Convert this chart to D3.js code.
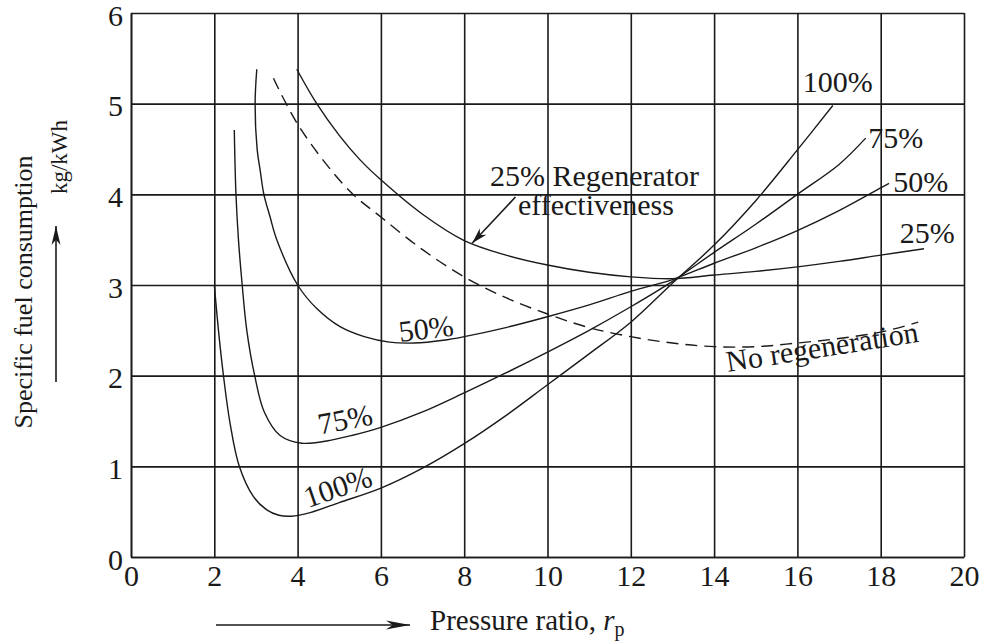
<!DOCTYPE html>
<html>
<head>
<meta charset="utf-8">
<script src="https://cdn.jsdelivr.net/npm/d3@7"></script>
<style>
    body { margin: 0; background: #fff; }
    text { font-family: "Liberation Serif", "Times New Roman", serif; fill: #1a1a1a; }
</style>
</head>
<body>
<div id="chart"></div>
<script>
// tick values
const xTicks = [0, 2, 4, 6, 8, 10, 12, 14, 16, 18, 20];
const yTicks = [0, 1, 2, 3, 4, 5, 6];

// regenerator effectiveness 100 %
const eff100X = [2.0, 2.1, 2.22, 2.38, 2.6, 2.94, 3.26, 3.55, 3.85, 4.3, 5, 6, 7, 8, 9, 10, 11, 12, 13, 14, 15, 16, 16.85];
const eff100Y = [3.0, 2.5, 2.0, 1.47, 1.0, 0.665, 0.52, 0.46, 0.45, 0.49, 0.6, 0.76, 0.98, 1.25, 1.56, 1.9, 2.24, 2.59, 3.02, 3.44, 3.93, 4.49, 4.98];

// 75 %
const eff75X = [2.48, 2.52, 2.58, 2.66, 2.78, 2.97, 3.2, 3.58, 4.1, 4.7, 5.3, 6, 7, 8, 9, 10, 11, 12, 13, 14, 15, 16, 17, 17.64];
const eff75Y = [4.71, 4.0, 3.5, 3.05, 2.5, 2.0, 1.6, 1.34, 1.255, 1.28, 1.34, 1.43, 1.6, 1.81, 2.03, 2.26, 2.5, 2.76, 3.04, 3.36, 3.67, 4.0, 4.33, 4.62];

// 50 %
const eff50X = [3.02, 2.98, 3.03, 3.1, 3.19, 3.34, 3.5, 4.0, 4.46, 5.02, 5.6, 6.2, 6.8, 7.5, 8, 9, 10, 11, 12, 13, 14, 15, 16, 17, 18, 18.2];
const eff50Y = [5.38, 5.0, 4.49, 4.27, 4.0, 3.75, 3.5, 3.0, 2.74, 2.54, 2.43, 2.37, 2.36, 2.39, 2.43, 2.53, 2.65, 2.78, 2.93, 3.06, 3.24, 3.41, 3.6, 3.82, 4.07, 4.12];

// 25 %
const eff25X = [3.98, 4.46, 5, 5.5, 6, 7, 8, 9, 10, 11, 12, 13, 14, 15, 16, 17, 18, 19.04];
const eff25Y = [5.38, 5.0, 4.65, 4.38, 4.16, 3.78, 3.49, 3.33, 3.22, 3.14, 3.09, 3.07, 3.11, 3.15, 3.2, 3.26, 3.33, 3.4];

// no regeneration (dashed)
const noRegenX = [3.42, 4.06, 5.22, 6, 7, 8, 9, 10, 11, 12, 13, 14, 15, 16, 17, 18, 18.9];
const noRegenY = [5.28, 4.73, 4.05, 3.75, 3.39, 3.09, 2.86, 2.68, 2.53, 2.43, 2.36, 2.32, 2.32, 2.36, 2.41, 2.48, 2.59];

const ink = "#1a1a1a";

const svg = (
    d3.select("#chart")
    .append("svg")
    .attr("width", 992)
    .attr("height", 641)
);

const x = d3.scaleLinear().domain([0, 20]).range([131, 964]);
const y = d3.scaleLinear().domain([0, 6]).range([557, 13]);

// grid + axes
const xAxis = (
    d3.axisBottom(x)
    .tickValues(xTicks)
    .tickFormat(d3.format("d"))
    .tickSize(-(557 - 13))
    .tickSizeOuter(0)
    .tickPadding(8)
);
const yAxis = (
    d3.axisLeft(y)
    .tickValues(yTicks)
    .tickFormat(d3.format("d"))
    .tickSize(-(964 - 131))
    .tickSizeOuter(0)
    .tickPadding(8)
);

const gx = svg.append("g").attr("transform", "translate(0,557)").call(xAxis);
const gy = svg.append("g").attr("transform", "translate(131,0)").call(yAxis);

[gx, gy].forEach((g) => {
    g.selectAll("line, path").attr("stroke", ink).attr("stroke-width", 1.6);
    (
        g.selectAll("text")
        .attr("fill", ink)
        .attr("font-size", 30)
        .attr("font-family", "'Liberation Serif', 'Times New Roman', serif")
    );
});
gy.selectAll("text").attr("dy", "0.4em");

// curves
const line = d3.line()
    .x((d) => x(d[0]))
    .y((d) => y(d[1]))
    .curve(d3.curveCatmullRom.alpha(0.5));

const series = [
    [eff100X, eff100Y, null],
    [eff75X, eff75Y, null],
    [eff50X, eff50Y, null],
    [eff25X, eff25Y, null],
    [noRegenX, noRegenY, "12,7"],
];

series.forEach(([xs, ys, dash]) => {
    (
        svg.append("path")
        .datum(d3.zip(xs, ys))
        .attr("d", line)
        .attr("fill", "none")
        .attr("stroke", ink)
        .attr("stroke-width", 1.4)
        .attr("stroke-dasharray", dash)
    );
});

// text helper
function label(txt, px, py, angle, size) {
    return (
        svg.append("text")
        .attr("transform", `translate(${px},${py}) rotate(${angle})`)
        .attr("font-size", size)
        .text(txt)
    );
}

function arrow(x1, y1, x2, y2, len) {
    svg.append("line")
        .attr("x1", x1).attr("y1", y1).attr("x2", x2).attr("y2", y2)
        .attr("stroke", ink).attr("stroke-width", 1.6);
    const a = Math.atan2(y2 - y1, x2 - x1) * 180 / Math.PI;
    svg.append("path")
        .attr("d", `M0,0 L${-len},-4.5 L${-len * 0.72},0 L${-len},4.5 Z`)
        .attr("fill", ink)
        .attr("transform", `translate(${x2},${y2}) rotate(${a})`);
}

// curve labels
label("100%", x(16.13), y(5.13), 0, 30);
label("75%", x(17.7), y(4.51), 0, 30);
label("50%", x(18.3), y(4.03), 0, 30);
label("25%", x(18.46), y(3.46), 0, 30);
label("50%", x(6.46), y(2.37), -7, 30);
label("75%", x(4.54), y(1.35), -11, 30);
label("100%", x(4.25), y(0.54), -19, 30);
label("No regeneration", x(14.33), y(2.04), -9, 30);
label("25% Regenerator", x(8.62), y(4.09), 0, 30);
label("effectiveness", x(9.29), y(3.77), 0, 30);
arrow(x(9.23), y(3.97), x(8.19), y(3.46), 16);

// axis titles
(
    svg.append("text")
    .attr("transform", "translate(32,292) rotate(-90)")
    .attr("text-anchor", "middle")
    .attr("font-size", 26)
    .text("Specific fuel consumption")
);
(
    svg.append("text")
    .attr("transform", "translate(67,157) rotate(-90)")
    .attr("text-anchor", "middle")
    .attr("font-size", 23)
    .text("kg/kWh")
);
arrow(56, 382, 56, 226, 19);

const xt = (
    svg.append("text")
    .attr("transform", "translate(430,630)")
    .attr("font-size", 29)
);
xt.append("tspan").text("Pressure ratio, ");
xt.append("tspan").attr("font-style", "italic").text("r");
xt.append("tspan").attr("font-size", 20).attr("dy", 6).text("p");
arrow(216, 625, 410, 625, 24);
</script>
</body>
</html>
